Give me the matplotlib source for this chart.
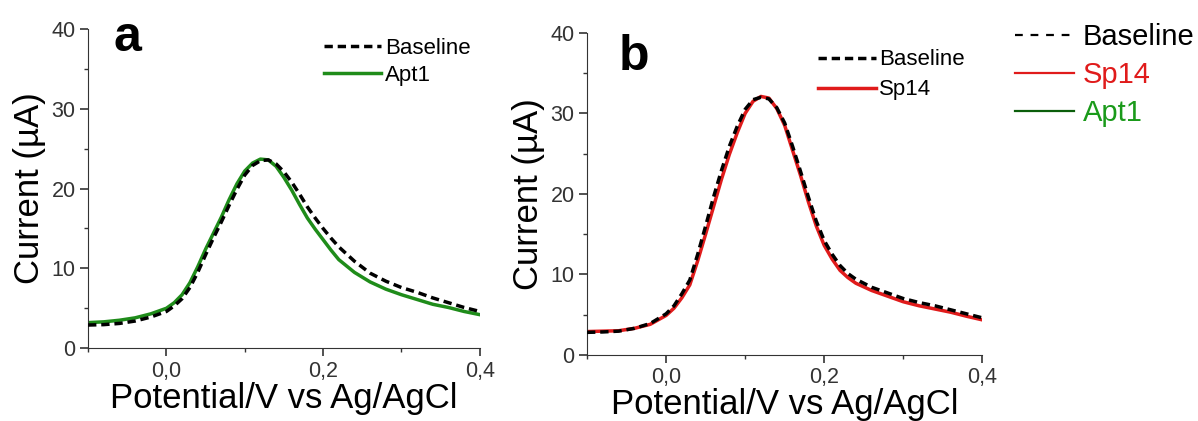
import matplotlib.pyplot as plt
from matplotlib.lines import Line2D
from matplotlib.ticker import MultipleLocator, FuncFormatter

plt.rcParams['font.family'] = ['Liberation Sans', 'DejaVu Sans']

# panel a (potential in V, current in uA)
pot_a = [-0.1, -0.08, -0.06, -0.04, -0.02, 0.0, 0.01, 0.02, 0.03, 0.04, 0.05,
         0.06, 0.07, 0.08, 0.09, 0.1, 0.11, 0.12, 0.13, 0.14, 0.15, 0.16,
         0.17, 0.18, 0.19, 0.2, 0.21, 0.22, 0.23, 0.24, 0.26, 0.28, 0.3,
         0.32, 0.34, 0.36, 0.38, 0.4]
base_a = [2.9, 2.95, 3.1, 3.4, 3.9, 4.6, 5.3, 6.2, 7.6, 9.5, 11.7,
          13.8, 15.8, 17.9, 19.9, 21.7, 22.9, 23.5, 23.6, 23.1, 22.1, 20.8,
          19.3, 17.7, 16.3, 15.0, 13.8, 12.7, 11.8, 10.9, 9.4, 8.4, 7.6,
          7.0, 6.3, 5.7, 5.1, 4.6]
apt1_a = [3.2, 3.3, 3.5, 3.8, 4.3, 5.0, 5.7, 6.7, 8.2, 10.2, 12.4,
          14.4, 16.4, 18.6, 20.6, 22.2, 23.2, 23.7, 23.6, 22.8, 21.4, 19.8,
          18.0, 16.3, 14.9, 13.6, 12.3, 11.1, 10.3, 9.5, 8.3, 7.4, 6.7,
          6.1, 5.5, 5.1, 4.6, 4.2]

# panel b
pot_b = [-0.1, -0.08, -0.06, -0.04, -0.02, 0.0, 0.01, 0.02, 0.03, 0.04, 0.05,
         0.06, 0.07, 0.08, 0.09, 0.1, 0.11, 0.12, 0.13, 0.14, 0.15, 0.16,
         0.17, 0.18, 0.19, 0.2, 0.21, 0.22, 0.23, 0.24, 0.26, 0.28, 0.3,
         0.32, 0.34, 0.36, 0.38, 0.4]
base_b = [2.8, 2.85, 2.95, 3.3, 3.9, 5.1, 6.1, 7.6, 9.3, 12.5, 16.0,
          19.6, 22.9, 25.9, 28.4, 30.5, 31.7, 32.0, 31.8, 30.7, 28.8, 25.9,
          22.8, 19.6, 16.6, 14.2, 12.5, 11.1, 10.1, 9.4, 8.4, 7.7, 7.0,
          6.5, 6.1, 5.6, 5.1, 4.6]
sp14_b = [2.9, 2.95, 3.0, 3.3, 3.8, 4.9, 5.8, 7.1, 8.7, 11.7, 15.0,
          18.4, 21.8, 24.9, 27.6, 30.0, 31.5, 32.1, 31.9, 30.6, 28.5, 25.4,
          22.3, 19.0, 16.0, 13.6, 11.9, 10.5, 9.6, 8.9, 8.0, 7.3, 6.6,
          6.1, 5.7, 5.3, 4.8, 4.35]

GREEN = '#1f8c1a'
DKGREEN = '#0b5e0b'
RED = '#e01b1b'
DASH = (0, (2.4, 1.4))


def style_axes(ax):
    ax.set_xlim(-0.1, 0.4)
    ax.set_ylim(0, 40)
    ax.spines['top'].set_visible(False)
    ax.spines['right'].set_visible(False)
    ax.spines['left'].set_color('#333333')
    ax.spines['bottom'].set_color('#333333')
    ax.xaxis.set_major_locator(MultipleLocator(0.2))
    ax.xaxis.set_minor_locator(MultipleLocator(0.1))
    ax.yaxis.set_major_locator(MultipleLocator(10))
    ax.yaxis.set_minor_locator(MultipleLocator(5))
    ax.xaxis.set_major_formatter(FuncFormatter(lambda v, p: f"{v:.1f}".replace('.', ',')))
    ax.tick_params(which='major', direction='out', length=6, width=1.2, labelsize=15.5, colors='#333333')
    ax.tick_params(which='minor', direction='out', length=3, width=1.0, colors='#333333')
    ax.tick_params(axis='x', pad=3)
    ax.tick_params(axis='y', pad=3)
    ax.set_xlabel('Potential/V vs Ag/AgCl', fontsize=25, labelpad=0)
    ax.set_ylabel('Current (\u00b5A)', fontsize=25, labelpad=4)


fig = plt.figure(figsize=(11.98, 4.21), dpi=100)
ax1 = fig.add_axes([0.0735, 0.173, 0.327, 0.758])
ax2 = fig.add_axes([0.49, 0.157, 0.33, 0.765])

ax1.plot(pot_a, base_a, color='black', lw=2.5, ls=DASH, label='Baseline', zorder=3)
ax1.plot(pot_a, apt1_a, color=GREEN, lw=2.5, label='Apt1', zorder=2)
style_axes(ax1)
ax1.text(0.065, 0.93, 'a', transform=ax1.transAxes, fontsize=36, fontweight='bold', va='baseline', ha='left')
ax1.legend(loc='upper right', bbox_to_anchor=(1.01, 1.015), frameon=False, fontsize=16,
           handlelength=2.6, handletextpad=0.15, labelspacing=0.3, borderaxespad=0.2)

ax2.plot(pot_b, base_b, color='black', lw=2.5, ls=DASH, label='Baseline', zorder=3)
ax2.plot(pot_b, sp14_b, color=RED, lw=2.5, label='Sp14', zorder=2)
style_axes(ax2)
ax2.text(0.08, 0.885, 'b', transform=ax2.transAxes, fontsize=36, fontweight='bold', va='baseline', ha='left')
ax2.legend(loc='upper right', bbox_to_anchor=(0.99, 0.99), frameon=False, fontsize=16,
           handlelength=2.6, handletextpad=0.15, labelspacing=0.4, borderaxespad=0.2)

# shared legend at the right edge
handles = [Line2D([], [], color='black', lw=1.6, ls=(0, (3.5, 3.5))),
           Line2D([], [], color=RED, lw=1.6),
           Line2D([], [], color=DKGREEN, lw=1.6)]
leg = fig.legend(handles, ['Baseline', 'Sp14', 'Apt1'], loc='upper right',
                 bbox_to_anchor=(1.009, 0.98), frameon=False, fontsize=21,
                 handlelength=2.0, handletextpad=0.3, labelspacing=0.35,
                 borderaxespad=0.1)
for txt, c in zip(leg.get_texts(), ['black', RED, '#1a9a1a']):
    txt.set_color(c)

fig.savefig('out.png', dpi=100)
